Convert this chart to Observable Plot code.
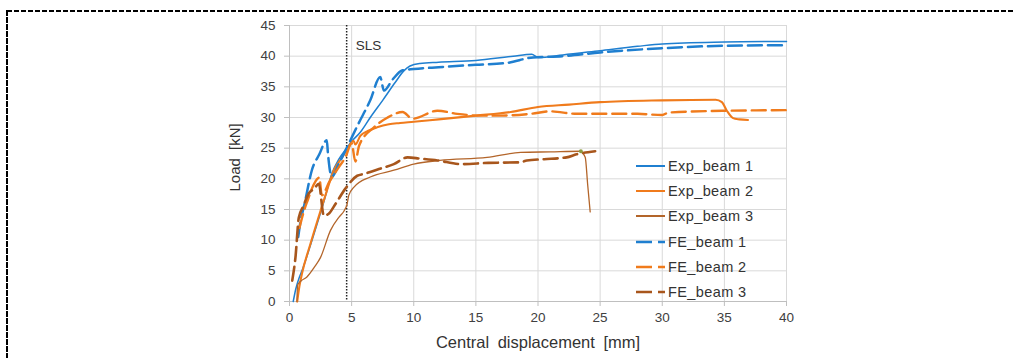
<!DOCTYPE html>
<html>
<head>
<meta charset="utf-8">
<script src="https://cdn.jsdelivr.net/npm/d3@7"></script>
<script src="https://cdn.jsdelivr.net/npm/@observablehq/plot@0.6"></script>
<style>
  html, body { margin: 0; padding: 0; background: #fff; overflow: hidden; width: 1014px; height: 358px; }
  #wrap { position: relative; width: 1014px; height: 358px; overflow: hidden; font-family: "Liberation Sans", Arial, sans-serif; }
  #chart { position: absolute; left: 0; top: 0; width: 1014px; height: 358px; }
  #chart svg { display: block; }
  #frame { position: absolute; left: 0; top: 0; }
  #legend { position: absolute; left: 636px; top: 153.5px; font-size: 14.5px; color: #333; letter-spacing: 0.4px; }
  #legend .row { height: 25.2px; display: flex; align-items: center; white-space: nowrap; }
  #legend svg { margin-right: 3px; }
</style>
</head>
<body>
<div id="wrap">
  <div id="chart"></div>
  <svg id="frame" width="1014" height="358">
    <line x1="7" y1="11" x2="1014" y2="11" stroke="#000" stroke-width="2" stroke-dasharray="5,2"/>
    <line x1="7" y1="10" x2="7" y2="358" stroke="#000" stroke-width="2" stroke-dasharray="6,1"/>
  </svg>
  <div id="legend"></div>
</div>
<script>
// ---- data ----
const seriesNames = ["Exp_beam 1", "Exp_beam 2", "Exp_beam 3", "FE_beam 1", "FE_beam 2", "FE_beam 3"];
const seriesColors = ["#1f7fd0", "#f07b1c", "#b3652a", "#1f7fd0", "#f07b1c", "#a8561c"];
const seriesDashed = [false, false, false, true, true, true];
const seriesWidths = [1.5, 2.1, 1.3, 2.5, 2.4, 2.6];

const exp1X = [0.3, 0.5, 0.8, 1.0, 1.5, 2.2, 2.8, 3.4, 4.0, 4.6, 5.0, 5.7, 6.5, 7.5, 8.5, 9.2, 9.7, 10.5, 12, 15, 18, 19.5, 20, 22, 25, 28, 30, 35, 40];
const exp1Y = [0, 2, 4, 5, 8, 12.5, 16.5, 20.8, 23.3, 25, 26.1, 27.6, 30, 32.8, 35.7, 37.6, 38.4, 38.8, 39, 39.3, 40, 40.3, 39.8, 40.2, 40.9, 41.6, 42, 42.3, 42.4];

const exp2X = [0.62, 0.8, 1.0, 1.7, 2.5, 3.0, 3.57, 4.24, 4.77, 5.15, 5.3, 5.7, 6.3, 7.05, 8.0, 8.9, 10, 12, 15, 17.8, 20, 22.5, 25, 30, 34.3, 34.8, 35.2, 35.7, 36.2, 36.9];
const exp2Y = [0, 2.5, 4.5, 9.5, 14.8, 18, 21.4, 23.5, 25.2, 26.2, 25.6, 27, 27.8, 28.4, 28.9, 29.1, 29.3, 29.7, 30.3, 30.9, 31.7, 32.1, 32.5, 32.8, 32.9, 32.5, 31.1, 29.9, 29.7, 29.6];

const exp3X = [0.6, 0.65, 0.9, 1.4, 2.0, 2.5, 3.3, 4.0, 4.4, 4.64, 4.77, 5.17, 6.5, 8.4, 10, 12.1, 15.9, 18.6, 21, 23.4, 23.8, 24.0, 24.2];
const exp3Y = [0, 2.7, 3.3, 4.0, 5.6, 7.2, 11.6, 13.8, 14.8, 15.9, 17.3, 18.6, 20.3, 21.4, 22.4, 23, 23.5, 24.3, 24.4, 24.5, 23.5, 19, 14.6];

const fe1X = [0.7, 0.9, 1.2, 1.8, 2.4, 3.0, 3.1, 3.4, 4.0, 4.5, 5.5, 6.5, 7.3, 7.6, 8.3, 9.1, 10, 12, 15, 17.5, 19.6, 22, 25, 30, 35, 40];
const fe1Y = [10.5, 13.2, 15.8, 21.4, 24, 26.3, 24, 20.3, 22.6, 24.6, 28.8, 32.8, 36.6, 34.4, 36.2, 37.7, 37.9, 38.2, 38.6, 38.9, 39.8, 40, 40.6, 41.3, 41.7, 41.8];

const fe2X = [0.8, 1.2, 1.5, 1.8, 2.4, 2.6, 3.2, 4.0, 4.5, 5.0, 5.3, 5.6, 6.8, 7.9, 9.1, 9.9, 11.9, 13.5, 15.4, 17, 19.4, 21, 23.1, 25, 28, 30, 30.5, 35, 40];
const fe2Y = [12, 15, 16.7, 18.4, 20.2, 17.3, 19.5, 22, 23.5, 25.8, 22.8, 25.4, 28.4, 30, 30.9, 29.8, 31.1, 30.6, 30.3, 30.3, 30.6, 31, 30.6, 30.6, 30.6, 30.4, 30.8, 31.1, 31.2];

const fe3X = [0.22, 0.48, 0.75, 1.1, 1.55, 2.0, 2.36, 2.76, 3.2, 3.7, 4.5, 5.45, 6.0, 7.2, 8.4, 9.5, 10.5, 11.9, 13.8, 16, 18.6, 19.1, 20.5, 22.3, 23.1, 24.6];
const fe3Y = [3.4, 7.2, 13.7, 15.5, 17.6, 18.4, 19.2, 14.0, 14.4, 15.9, 18.4, 20.5, 20.8, 21.6, 22.4, 23.5, 23.3, 23, 22.4, 22.6, 22.7, 23, 23.2, 23.5, 24, 24.5];

const seriesX = [exp1X, exp2X, exp3X, fe1X, fe2X, fe3X];
const seriesY = [exp1Y, exp2Y, exp3Y, fe1Y, fe2Y, fe3Y];

const markerX = [23.45];
const markerY = [24.5];

const slsX = [4.6];
const slsLabel = ["SLS"];
const xTicks = [0, 5, 10, 15, 20, 25, 30, 35, 40];
const yTicks = [0, 5, 10, 15, 20, 25, 30, 35, 40, 45];
const xLabel = "Central displacement [mm]";
const yLabel = "Load [kN]";

// ---- build ----
const rows = [];
seriesNames.forEach((name, i) => {
  seriesX[i].forEach((x, j) => rows.push({series: name, idx: i, x, y: seriesY[i][j]}));
});

const lineMarks = seriesNames.map((name, i) =>
  Plot.line(rows.filter(r => r.idx === i), {
    x: "x", y: "y",
    stroke: seriesColors[i],
    strokeWidth: seriesWidths[i],
    strokeDasharray: seriesDashed[i] ? "14,6" : null,
    curve: "monotone-x",
    strokeLinejoin: "round"
  })
);

const chart = Plot.plot({
  width: 1014,
  height: 358,
  marginLeft: 289,
  marginRight: 228,
  marginTop: 25,
  marginBottom: 57,
  style: {fontFamily: "'Liberation Sans', Arial, sans-serif", fontSize: "13px", color: "#404040", background: "#fff"},
  x: {domain: [0, 40]},
  y: {domain: [0, 45]},
  marks: [
    Plot.gridX(xTicks, {stroke: "#d9d9d9", strokeOpacity: 1, strokeWidth: 1}),
    Plot.gridY(yTicks, {stroke: "#d9d9d9", strokeOpacity: 1, strokeWidth: 1}),
    Plot.ruleX([0], {stroke: "#bfbfbf", strokeWidth: 1}),
    Plot.ruleY([0], {stroke: "#bfbfbf", strokeWidth: 1}),
    Plot.axisX(xTicks, {tickSize: 5, tickPadding: 6, stroke: "#bfbfbf", label: null, fontSize: 13.5, fill: "#404040"}),
    Plot.axisY(yTicks, {tickSize: 5, tickPadding: 9, stroke: "#bfbfbf", label: null, fontSize: 13.5, fill: "#404040"}),
    Plot.ruleX(slsX, {stroke: "#222", strokeWidth: 1.5, strokeDasharray: "1.5,1.5"}),
    Plot.text(slsLabel, {x: slsX, frameAnchor: "top", dx: 9, dy: 15, textAnchor: "start", fontSize: 13.5, fill: "#333"}),
    ...lineMarks,
    Plot.dot(markerX.map((x, i) => ({x, y: markerY[i]})), {x: "x", y: "y", r: 2, fill: "#8c9a40", stroke: null}),
    Plot.text([xLabel], {frameAnchor: "bottom", dy: 46, fontSize: 16.5, fill: "#333"}),
    Plot.text([yLabel], {frameAnchor: "left", dx: -54, dy: 28, rotate: -90, fontSize: 15, fill: "#333"})
  ]
});
document.getElementById("chart").appendChild(chart);
d3.select(chart).selectAll("text").filter(function() { return this.textContent === xLabel || this.textContent === yLabel; })
  .style("word-spacing", "4px");

// ---- legend ----
const legend = document.getElementById("legend");
seriesNames.forEach((name, i) => {
  const row = document.createElement("div");
  row.className = "row";
  const sw = 29;
  row.innerHTML = `<svg width="${sw}" height="8"><line x1="0" y1="4" x2="${sw}" y2="4" stroke="${seriesColors[i]}" stroke-width="${seriesDashed[i] ? 2.6 : 2}" ${seriesDashed[i] ? 'stroke-dasharray="16,6"' : ''}/></svg><span>${name}</span>`;
  legend.appendChild(row);
});
</script>
</body>
</html>
